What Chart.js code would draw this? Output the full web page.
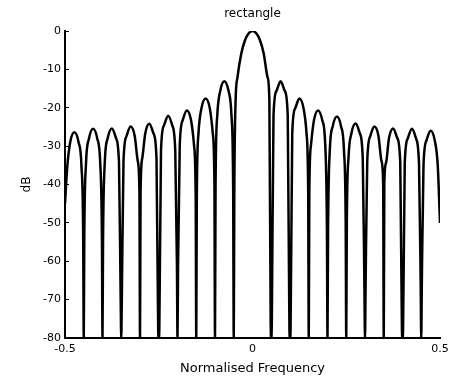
<!DOCTYPE html>
<html>
<head>
<meta charset="utf-8">
<title>rectangle</title>
<script src="https://cdn.jsdelivr.net/npm/chart.js@4/dist/chart.umd.min.js"></script>
<style>
  html, body { margin: 0; padding: 0; background: #fff; }
  canvas { display: block; }
</style>
</head>
<body>
<canvas id="spectrum" width="451" height="378"></canvas>
<script>
// Magnitude response of the rectangular window, sampled by hand per lobe
// (each sidelobe: rising side, shoulder, peak, shoulder, falling side; each null: edge, floor, edge)
const freq = [
    -0.5,
    -0.494, -0.486, -0.475, -0.464, -0.456,
    -0.4515, -0.45, -0.4485,
    -0.444, -0.436, -0.425, -0.414, -0.406,
    -0.4015, -0.4, -0.3985,
    -0.394, -0.386, -0.375, -0.364, -0.356,
    -0.3515, -0.35, -0.3485,
    -0.344, -0.336, -0.325, -0.314, -0.306,
    -0.3015, -0.3, -0.2985,
    -0.294, -0.286, -0.275, -0.264, -0.256,
    -0.2515, -0.25, -0.2485,
    -0.244, -0.236, -0.225, -0.214, -0.206,
    -0.2015, -0.2, -0.1985,
    -0.194, -0.186, -0.175, -0.164, -0.156,
    -0.1515, -0.15, -0.1485,
    -0.144, -0.136, -0.125, -0.114, -0.106,
    -0.1015, -0.1, -0.0985,
    -0.094, -0.086, -0.075, -0.064, -0.056,
    -0.0515, -0.05, -0.0485,
    -0.045, -0.04, -0.03, -0.02, -0.01, 0, 0.01, 0.02, 0.03, 0.04, 0.045,
    0.0485, 0.05, 0.0515,
    0.056, 0.064, 0.075, 0.086, 0.094,
    0.0985, 0.1, 0.1015,
    0.106, 0.114, 0.125, 0.136, 0.144,
    0.1485, 0.15, 0.1515,
    0.156, 0.164, 0.175, 0.186, 0.194,
    0.1985, 0.2, 0.2015,
    0.206, 0.214, 0.225, 0.236, 0.244,
    0.2485, 0.25, 0.2515,
    0.256, 0.264, 0.275, 0.286, 0.294,
    0.2985, 0.3, 0.3015,
    0.306, 0.314, 0.325, 0.336, 0.344,
    0.3485, 0.35, 0.3515,
    0.356, 0.364, 0.375, 0.386, 0.394,
    0.3985, 0.4, 0.4015,
    0.406, 0.414, 0.425, 0.436, 0.444,
    0.4485, 0.45, 0.4515,
    0.456, 0.464, 0.475, 0.486, 0.494,
    0.5
];

const magnitudeDb = [
    -45,
    -35.4, -28.9, -26.4, -28.9, -35.4,
    -53, -80, -53,
    -34.5, -28.0, -25.5, -28.0, -34.5,
    -54, -80, -54,
    -34.4, -27.9, -25.4, -27.9, -34.4,
    -70, -80, -70,
    -33.9, -27.4, -24.9, -27.4, -33.9,
    -42, -80, -42,
    -33.2, -26.7, -24.2, -26.7, -33.2,
    -78, -80, -78,
    -31.1, -24.6, -22.1, -24.6, -31.1,
    -61, -80, -61,
    -29.7, -23.2, -20.7, -23.2, -29.7,
    -43, -80, -43,
    -26.6, -20.1, -17.6, -20.1, -26.6,
    -40, -80, -40,
    -22.1, -15.6, -13.1, -15.6, -22.1,
    -42, -80, -42,
    -18, -12, -5.9, -2.4, -0.6, 0, -0.6, -2.4, -5.9, -12, -18,
    -76, -80, -76,
    -22.1, -15.6, -13.1, -15.6, -22.1,
    -78, -80, -78,
    -26.6, -20.1, -17.6, -20.1, -26.6,
    -42, -80, -42,
    -29.7, -23.2, -20.7, -23.2, -29.7,
    -52, -80, -52,
    -31.3, -24.8, -22.3, -24.8, -31.3,
    -50, -80, -50,
    -33.1, -26.6, -24.1, -26.6, -33.1,
    -67, -80, -67,
    -33.9, -27.4, -24.9, -27.4, -33.9,
    -40, -80, -40,
    -34.4, -27.9, -25.4, -27.9, -34.4,
    -78, -80, -78,
    -34.5, -28.0, -25.5, -28.0, -34.5,
    -66, -80, -66,
    -35.0, -28.5, -26.0, -28.5, -35.0,
    -50
];

// Axis limits and tick steps
const freqRange = [-0.5, 0.5];
const freqStep = 0.5;
const dbRange = [-80, 0];
const dbStep = 10;

Chart.defaults.font.family = "'DejaVu Sans', sans-serif";
Chart.defaults.color = '#000';

const points = freq.map((f, i) => ({ x: f, y: magnitudeDb[i] }));

const ctx = document.getElementById('spectrum').getContext('2d');
new Chart(ctx, {
    type: 'scatter',
    data: {
        datasets: [{
            data: points,
            showLine: true,
            borderColor: '#000',
            borderWidth: 2.5,
            pointRadius: 0,
            cubicInterpolationMode: 'monotone'
        }]
    },
    options: {
        responsive: false,
        animation: false,
        layout: { padding: { left: 0, right: 11, top: 0, bottom: 0 } },
        plugins: {
            legend: { display: false },
            tooltip: { enabled: false },
            title: {
                display: true,
                text: 'rectangle',
                fullSize: false,
                color: '#000',
                font: { size: 12, weight: 'normal' },
                padding: { top: 7, bottom: 9.6 }
            }
        },
        scales: {
            x: {
                type: 'linear',
                min: freqRange[0],
                max: freqRange[1],
                grid: { display: false, drawTicks: false },
                border: { display: true, color: '#000', width: 2 },
                ticks: {
                    stepSize: freqStep,
                    padding: 5,
                    font: { size: 11 },
                    color: '#000',
                    maxRotation: 0
                },
                title: {
                    display: true,
                    text: 'Normalised Frequency',
                    color: '#000',
                    font: { size: 13 },
                    padding: { top: 0, bottom: 2 }
                },
                afterFit: s => {
                    s.height = 40;
                    s.paddingLeft = 0;
                    s.paddingRight = 0;
                }
            },
            y: {
                min: dbRange[0],
                max: dbRange[1],
                grid: {
                    display: true,
                    drawOnChartArea: false,
                    drawTicks: true,
                    tickLength: -4,
                    color: '#000',
                    lineWidth: 1
                },
                border: { display: true, color: '#000', width: 2 },
                ticks: {
                    stepSize: dbStep,
                    padding: 8,
                    font: { size: 11 },
                    color: '#000'
                },
                title: {
                    display: true,
                    text: 'dB',
                    color: '#000',
                    font: { size: 12 },
                    padding: { top: 20, bottom: 0 }
                },
                afterFit: s => {
                    s.width = 65;
                    s.paddingTop = 0;
                    s.paddingBottom = 0;
                }
            }
        }
    }
});
</script>
</body>
</html>
